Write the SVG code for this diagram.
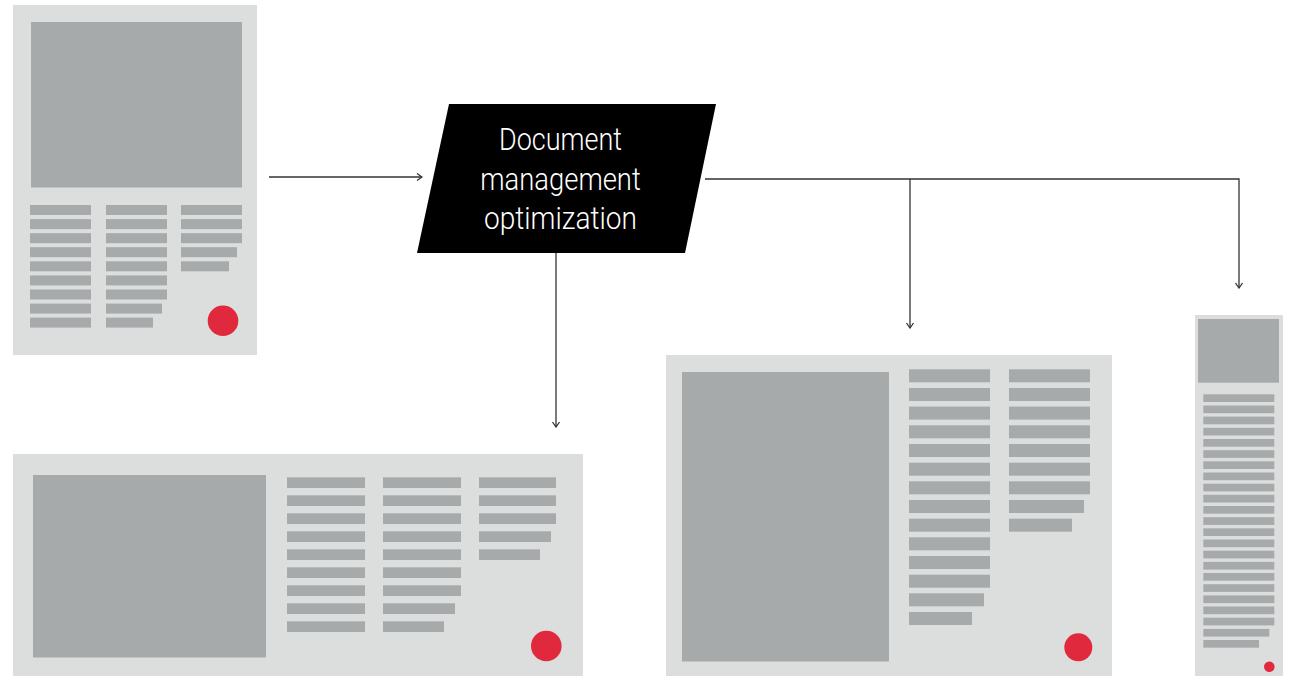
<svg xmlns="http://www.w3.org/2000/svg" width="1293" height="676" viewBox="0 0 1293 676">
<defs>
<style>
.bg{fill:#dcdddd}
.im{fill:#a7aaab}
.ln{fill:#a7aaab}
.dot{fill:#e0293c}
.conn{fill:none;stroke:#333;stroke-width:1.3}
.lbl{font-family:Roboto,"Liberation Sans",sans-serif;font-weight:300;font-size:31.5px;fill:#fff;text-anchor:middle}
</style>
<marker id="arr" viewBox="0 0 10 10" refX="9" refY="5" markerWidth="10" markerHeight="10" markerUnits="userSpaceOnUse" orient="auto">
<path d="M4,1.5 L9,5 L4,8.5" fill="none" stroke="#333" stroke-width="1.3"/>
</marker>
</defs>
<rect width="1293" height="676" fill="#fff"/>

<g id="doc-source">
<rect class="bg" x="13" y="5" width="244" height="350"/>
<rect class="im" x="31" y="22" width="211" height="165.5"/>
<g class="ln">
<rect x="30" y="205" width="61" height="10"/>
<rect x="30" y="219.1" width="61" height="10"/>
<rect x="30" y="233.2" width="61" height="10"/>
<rect x="30" y="247.2" width="61" height="10"/>
<rect x="30" y="261.3" width="61" height="10"/>
<rect x="30" y="275.4" width="61" height="10"/>
<rect x="30" y="289.5" width="61" height="10"/>
<rect x="30" y="303.6" width="61" height="10"/>
<rect x="30" y="317.6" width="61" height="10"/>
<rect x="106" y="205" width="61" height="10"/>
<rect x="106" y="219.1" width="61" height="10"/>
<rect x="106" y="233.2" width="61" height="10"/>
<rect x="106" y="247.2" width="61" height="10"/>
<rect x="106" y="261.3" width="61" height="10"/>
<rect x="106" y="275.4" width="61" height="10"/>
<rect x="106" y="289.5" width="61" height="10"/>
<rect x="106" y="303.6" width="56" height="10"/>
<rect x="106" y="317.6" width="47" height="10"/>
<rect x="181" y="205" width="61" height="10"/>
<rect x="181" y="219.1" width="61" height="10"/>
<rect x="181" y="233.2" width="61" height="10"/>
<rect x="181" y="247.2" width="56" height="10"/>
<rect x="181" y="261.3" width="48" height="10"/>
</g>
<circle class="dot" cx="223" cy="320.7" r="15.3"/>
</g>

<g id="process">
<polygon points="449,104 716,104 685,253 417,253" fill="#000"/>
<text class="lbl" x="560.5" y="149.5" textLength="123" lengthAdjust="spacingAndGlyphs">Document</text>
<text class="lbl" x="560.5" y="189.5" textLength="160.5" lengthAdjust="spacingAndGlyphs">management</text>
<text class="lbl" x="560.5" y="229" textLength="153" lengthAdjust="spacingAndGlyphs">optimization</text>
</g>

<g id="doc-wide">
<rect class="bg" x="13" y="454" width="570" height="222"/>
<rect class="im" x="33" y="475" width="233" height="182.5"/>
<g class="ln">
<rect x="287" y="477.3" width="78" height="10.7"/>
<rect x="287" y="495.3" width="78" height="10.7"/>
<rect x="287" y="513.3" width="78" height="10.7"/>
<rect x="287" y="531.3" width="78" height="10.7"/>
<rect x="287" y="549.3" width="78" height="10.7"/>
<rect x="287" y="567.3" width="78" height="10.7"/>
<rect x="287" y="585.3" width="78" height="10.7"/>
<rect x="287" y="603.3" width="78" height="10.7"/>
<rect x="287" y="621.3" width="78" height="10.7"/>
<rect x="383" y="477.3" width="78" height="10.7"/>
<rect x="383" y="495.3" width="78" height="10.7"/>
<rect x="383" y="513.3" width="78" height="10.7"/>
<rect x="383" y="531.3" width="78" height="10.7"/>
<rect x="383" y="549.3" width="78" height="10.7"/>
<rect x="383" y="567.3" width="78" height="10.7"/>
<rect x="383" y="585.3" width="78" height="10.7"/>
<rect x="383" y="603.3" width="72" height="10.7"/>
<rect x="383" y="621.3" width="61" height="10.7"/>
<rect x="479" y="477.3" width="77" height="10.7"/>
<rect x="479" y="495.3" width="77" height="10.7"/>
<rect x="479" y="513.3" width="77" height="10.7"/>
<rect x="479" y="531.3" width="72" height="10.7"/>
<rect x="479" y="549.3" width="61" height="10.7"/>
</g>
<circle class="dot" cx="546.3" cy="646" r="15.3"/>
</g>

<g id="doc-tablet">
<rect class="bg" x="666" y="355" width="446" height="321"/>
<rect class="im" x="682" y="372" width="207" height="289.5"/>
<g class="ln">
<rect x="909" y="369.3" width="81" height="13"/>
<rect x="909" y="388" width="81" height="13"/>
<rect x="909" y="406.6" width="81" height="13"/>
<rect x="909" y="425.3" width="81" height="13"/>
<rect x="909" y="444" width="81" height="13"/>
<rect x="909" y="462.7" width="81" height="13"/>
<rect x="909" y="481.3" width="81" height="13"/>
<rect x="909" y="500" width="81" height="13"/>
<rect x="909" y="518.7" width="81" height="13"/>
<rect x="909" y="537.3" width="81" height="13"/>
<rect x="909" y="556" width="81" height="13"/>
<rect x="909" y="574.7" width="81" height="13"/>
<rect x="909" y="593.3" width="75" height="13"/>
<rect x="909" y="612" width="63" height="13"/>
<rect x="1009" y="369.3" width="81" height="13"/>
<rect x="1009" y="388" width="81" height="13"/>
<rect x="1009" y="406.6" width="81" height="13"/>
<rect x="1009" y="425.3" width="81" height="13"/>
<rect x="1009" y="444" width="81" height="13"/>
<rect x="1009" y="462.7" width="81" height="13"/>
<rect x="1009" y="481.3" width="81" height="13"/>
<rect x="1009" y="500" width="75" height="13"/>
<rect x="1009" y="518.7" width="63" height="13"/>
</g>
<circle class="dot" cx="1078.3" cy="647.3" r="14"/>
</g>

<g id="doc-mobile">
<rect class="bg" x="1195" y="315" width="88" height="361"/>
<rect class="im" x="1198" y="319" width="81" height="63.7"/>
<g class="ln">
<rect x="1203.3" y="394.3" width="71" height="7.7"/>
<rect x="1203.3" y="405.5" width="71" height="7.7"/>
<rect x="1203.3" y="416.6" width="71" height="7.7"/>
<rect x="1203.3" y="427.8" width="71" height="7.7"/>
<rect x="1203.3" y="439" width="71" height="7.7"/>
<rect x="1203.3" y="450.2" width="71" height="7.7"/>
<rect x="1203.3" y="461.3" width="71" height="7.7"/>
<rect x="1203.3" y="472.5" width="71" height="7.7"/>
<rect x="1203.3" y="483.7" width="71" height="7.7"/>
<rect x="1203.3" y="494.8" width="71" height="7.7"/>
<rect x="1203.3" y="506" width="71" height="7.7"/>
<rect x="1203.3" y="517.2" width="71" height="7.7"/>
<rect x="1203.3" y="528.3" width="71" height="7.7"/>
<rect x="1203.3" y="539.5" width="71" height="7.7"/>
<rect x="1203.3" y="550.7" width="71" height="7.7"/>
<rect x="1203.3" y="561.9" width="71" height="7.7"/>
<rect x="1203.3" y="573" width="71" height="7.7"/>
<rect x="1203.3" y="584.2" width="71" height="7.7"/>
<rect x="1203.3" y="595.4" width="71" height="7.7"/>
<rect x="1203.3" y="606.5" width="71" height="7.7"/>
<rect x="1203.3" y="617.7" width="71" height="7.7"/>
<rect x="1203.3" y="628.9" width="66" height="7.7"/>
<rect x="1203.3" y="640" width="55.7" height="7.7"/>
</g>
<circle class="dot" cx="1269.3" cy="666.7" r="5.3"/>
</g>

<g id="connectors">
<path class="conn" d="M269,177 H422" marker-end="url(#arr)"/>
<path class="conn" d="M556,253 V427" marker-end="url(#arr)"/>
<path class="conn" d="M705,179 H1239 V288" marker-end="url(#arr)"/>
<path class="conn" d="M910,179 V328" marker-end="url(#arr)"/>
</g>
</svg>
